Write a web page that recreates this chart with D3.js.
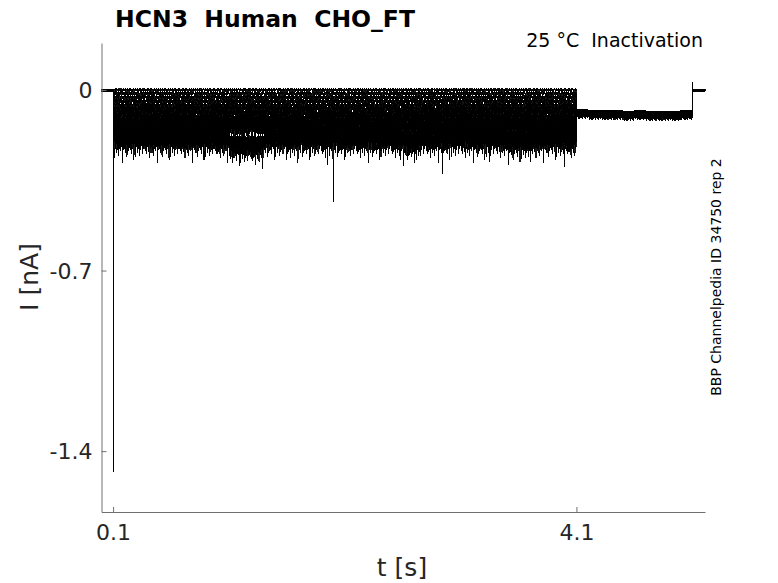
<!DOCTYPE html>
<html>
<head>
<meta charset="utf-8">
<script src="https://cdn.jsdelivr.net/npm/d3@7"></script>
<style>
  body { margin: 0; background: #fff; }
  text { font-family: "DejaVu Sans", sans-serif; white-space: pre; }
</style>
</head>
<body>
<div id="chart"></div>
<script>
// sweep levels during the 0.1 - 4.1 s step (nA)
const sweepLevels = [0.002, -0.012, -0.027, -0.042, -0.057, -0.072, -0.087, -0.102, -0.117, -0.132, -0.147, -0.162, -0.177, -0.195];
// capacitive transient at step onset, per sweep (nA)
const onsetSpikes = [-0.05, -0.06, -0.08, -0.1, -0.12, -0.14, -0.16, -0.18, -0.2, -0.22, -0.24, -0.26, -0.28, -1.48];
// isolated transients seen on the lowest sweeps [t, nA]
const transients = [[2.0, -0.434], [2.94, -0.326], [1.95, -0.29], [4.0, -0.3], [3.35, -0.28], [0.88, -0.27], [2.58, -0.27], [1.6, -0.27], [3.7, -0.28]];
// slower dip on deepest sweeps [t0, t1, nA]
const dips = [[1.1, 1.4, -0.025], [2.6, 2.75, -0.012], [3.5, 3.7, -0.01]];
// tail (4.1 - 5.1 s) level read every 0.1 s
const tailLevels = [-0.082, -0.084, -0.086, -0.085, -0.088, -0.086, -0.09, -0.088, -0.09, -0.086, -0.087];
// noise, in units of the sweep noise amplitude
const noise = [0.2,-0.4,0.1,-0.8,0.3,-0.2,-1.0,0.0,0.4,-0.5,-0.1,0.3,-0.7,0.2,-0.3,-1.3,0.1,0.0,-0.6,0.4,
  -0.2,-0.9,0.2,-0.4,0.3,0.1,-1.1,-0.3,0.2,-0.6,0.0,0.4,-0.8,-0.2,0.3,-0.5,0.1,-1.6,0.2,-0.1,
  0.3,-0.7,0.0,-0.3,0.4,-0.9,0.1,-0.2,0.2,-0.6,-1.2,0.3,0.0,-0.4,0.2,-0.8,0.1,0.4,-0.3,-0.7,
  0.2,-0.1,-1.0,0.3,-0.5,0.0,0.2,-0.6,-0.2,0.4,-1.4,0.1,-0.3,0.2,-0.8,0.0,0.3,-0.5,-0.1,0.2,
  -0.9,0.4,-0.2,-0.6,0.1,0.3,-1.1,0.0,-0.4,0.2,-0.7,0.1,-0.3,0.4,-0.5,-1.0,0.2,0.0,-0.6,0.3,-0.2];
const xTicks = [0.1, 4.1];
const yTicks = [0, -0.7, -1.4];

const width = 778, height = 583;
const margin = {left: 101.5, right: 73, top: 43, bottom: 71};
const dt = 0.003;

const svg = d3.select('#chart').append('svg')
  .attr('width', width).attr('height', height);

const x = d3.scaleLinear().domain([0, 5.21]).range([margin.left, width - margin.right]);
const y = d3.scaleLinear().domain([-1.636, 0.182]).range([height - margin.bottom, margin.top]);

function sweepPoints(i) {
  const lvl = sweepLevels[i];
  const deep = i >= sweepLevels.length - 3;
  const amp = 0.013 + 0.16 * Math.abs(lvl) + (deep ? 0.01 : 0);
  const pts = [];
  let k = i * 37;
  const nz = function (a) { k++; return noise[k % noise.length] * a; };
  // holding
  for (let j = 0; j < 34; j++) pts.push([j * dt, nz(0.006)]);
  pts.push([0.1, 0]);
  pts.push([0.1005, onsetSpikes[i]]);
  // step
  const n = Math.round(4 / dt);
  for (let j = 1; j <= n; j++) {
    const t = 0.1 + j * dt;
    let v = lvl + nz(amp);
    if (deep) {
      dips.forEach(function (d) { if (t >= d[0] && t <= d[1]) v += d[2]; });
    }
    pts.push([t, v]);
    if (i === sweepLevels.length - 1) {
      transients.forEach(function (s) {
        if (Math.abs(s[0] - t) < dt / 2) { pts.push([t + 0.0005, s[1]]); pts.push([t + 0.001, v]); }
      });
    }
  }
  // tail
  const m = Math.round(1 / dt);
  for (let j = 1; j <= m; j++) {
    const t = 4.1 + j * dt;
    pts.push([t, tailLevels[Math.min(10, Math.floor(j * dt * 10))] + nz(0.02)]);
  }
  pts.push([5.1, 0.03]);
  pts.push([5.102, 0]);
  for (let j = 1; j <= 37; j++) pts.push([5.1 + j * dt, nz(0.006)]);
  return pts;
}

const line = d3.line().x(function (d) { return x(d[0]); }).y(function (d) { return y(d[1]); });

const traces = svg.append('g').attr('shape-rendering', 'crispEdges');
sweepLevels.forEach(function (lvl, i) {
  traces.append('path')
    .attr('d', line(sweepPoints(i)))
    .attr('fill', 'none')
    .attr('stroke', '#000')
    .attr('stroke-width', 0.9);
});

// axes
const axisColor = '#707070';
const textColor = '#262626';
const xAxis = svg.append('g')
  .attr('transform', 'translate(0,' + (height - margin.bottom) + ')')
  .call(d3.axisBottom(x).tickValues(xTicks).tickSizeInner(-5).tickSizeOuter(0).tickPadding(12)
    .tickFormat(d3.format('.1f')));
const yAxis = svg.append('g')
  .attr('transform', 'translate(' + margin.left + ',0)')
  .call(d3.axisLeft(y).tickValues(yTicks).tickSizeInner(-5).tickSizeOuter(0).tickPadding(9)
    .tickFormat(function (d) { return d === 0 ? '0' : d.toFixed(1); }));
[xAxis, yAxis].forEach(function (a) {
  a.select('.domain').attr('stroke', axisColor);
  a.selectAll('.tick line').attr('stroke', axisColor);
  a.selectAll('.tick text').attr('fill', textColor)
    .style('font-family', '"DejaVu Sans", sans-serif').style('font-size', '22px');
});
yAxis.selectAll('.tick text').attr('dy', '0.35em');

// labels
svg.append('text').text('t [s]')
  .attr('x', 402).attr('y', 576).attr('text-anchor', 'middle')
  .attr('fill', textColor).style('font-size', '25px');
svg.append('text').text('I [nA]')
  .attr('transform', 'translate(38,277) rotate(-90)').attr('text-anchor', 'middle')
  .attr('fill', textColor).style('font-size', '25px');
svg.append('text').text('HCN3  Human  CHO_FT')
  .attr('x', 265).attr('y', 27).attr('text-anchor', 'middle')
  .style('font-size', '23.5px').style('font-weight', 'bold').attr('fill', '#000');
svg.append('text').text('25 °C  Inactivation')
  .attr('x', 703).attr('y', 47).attr('text-anchor', 'end')
  .style('font-size', '19px').attr('fill', '#000');
svg.append('text').text('BBP Channelpedia ID 34750 rep 2')
  .attr('transform', 'translate(721,277) rotate(-90)').attr('text-anchor', 'middle')
  .style('font-size', '14px').attr('fill', '#000');
</script>
</body>
</html>
